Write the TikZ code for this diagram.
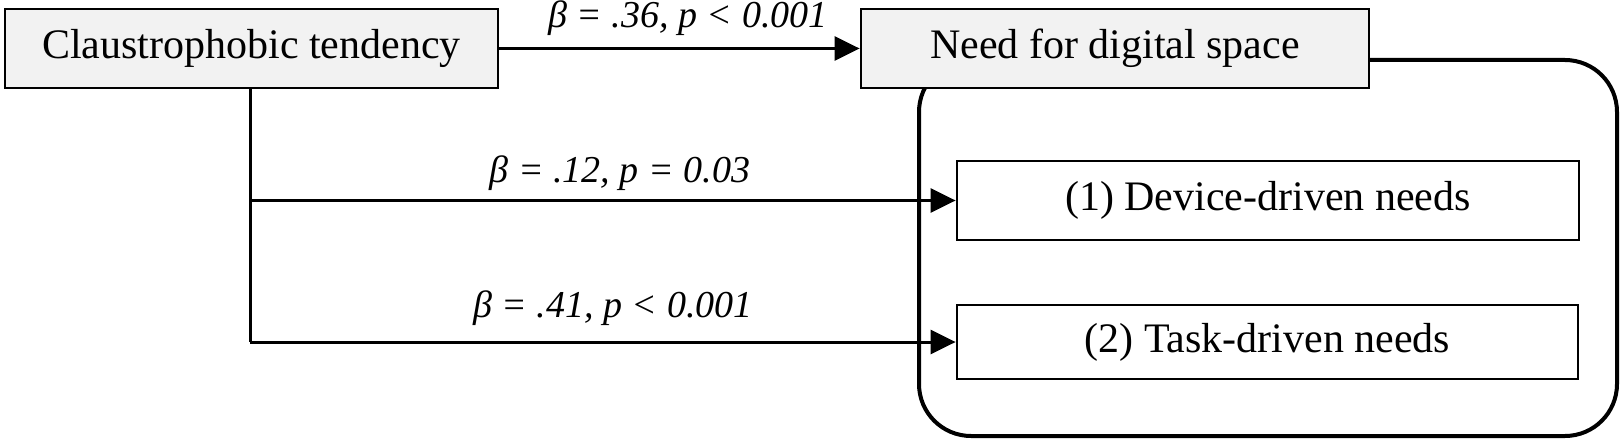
\documentclass[tikz,border=0pt]{standalone}
\usepackage{fontspec}
\setmainfont{Liberation Serif}
\usetikzlibrary{arrows.meta}
\definecolor{boxgray}{HTML}{F2F2F2}
\begin{document}
\begin{tikzpicture}[x=0.5pt,y=-0.5pt,
  boxtext/.style={font=\fontsize{21}{25}\selectfont},
  topbox/.style={draw, fill=boxgray, line width=1.4pt, inner sep=0pt, boxtext},
  innerbox/.style={draw, fill=white, line width=1.4pt, inner sep=0pt, boxtext},
  lab/.style={font=\fontsize{19}{23}\selectfont\itshape, anchor=base, inner sep=0pt},
  conn/.style={line width=1.5pt, -{Triangle[length=12.5pt,width=12pt]}},
  plain/.style={line width=1.5pt}
]
\useasboundingbox (0,0) rectangle (1623,444);
% grouping rounded box
\draw[line width=2pt, rounded corners=26pt] (919,60) rectangle (1617,436);
% nodes
\node[topbox, minimum width=246.5pt, minimum height=39.5pt] (claus) at (251.5,48.5) {Claustrophobic tendency};
\node[topbox, minimum width=254pt, minimum height=39.5pt] (need) at (1115,48.5) {Need for digital space};
\node[innerbox, minimum width=311pt, minimum height=39.5pt] (device) at (1268,200.5) {(1) Device-driven needs};
\node[innerbox, minimum width=310.5pt, minimum height=37pt] (task) at (1267.5,342) {(2) Task-driven needs};
% coordinates
\coordinate (vm) at (250,200.5);
\coordinate (vb) at (250,342);
% connectors
\draw[conn] (claus.east) -- (need.west);
\draw[plain] (claus.south -| vb) -- (vb);
\draw[conn] (vm) -- (device.west);
\draw[conn] (vb) -- (task.west);
% labels
\node[lab] (l1) at (688,28) {β = .36, p < 0.001};
\node[lab] (l2) at (620,183) {β = .12, p = 0.03};
\node[lab] (l3) at (613,317) {β = .41, p < 0.001};
\end{tikzpicture}
\end{document}
